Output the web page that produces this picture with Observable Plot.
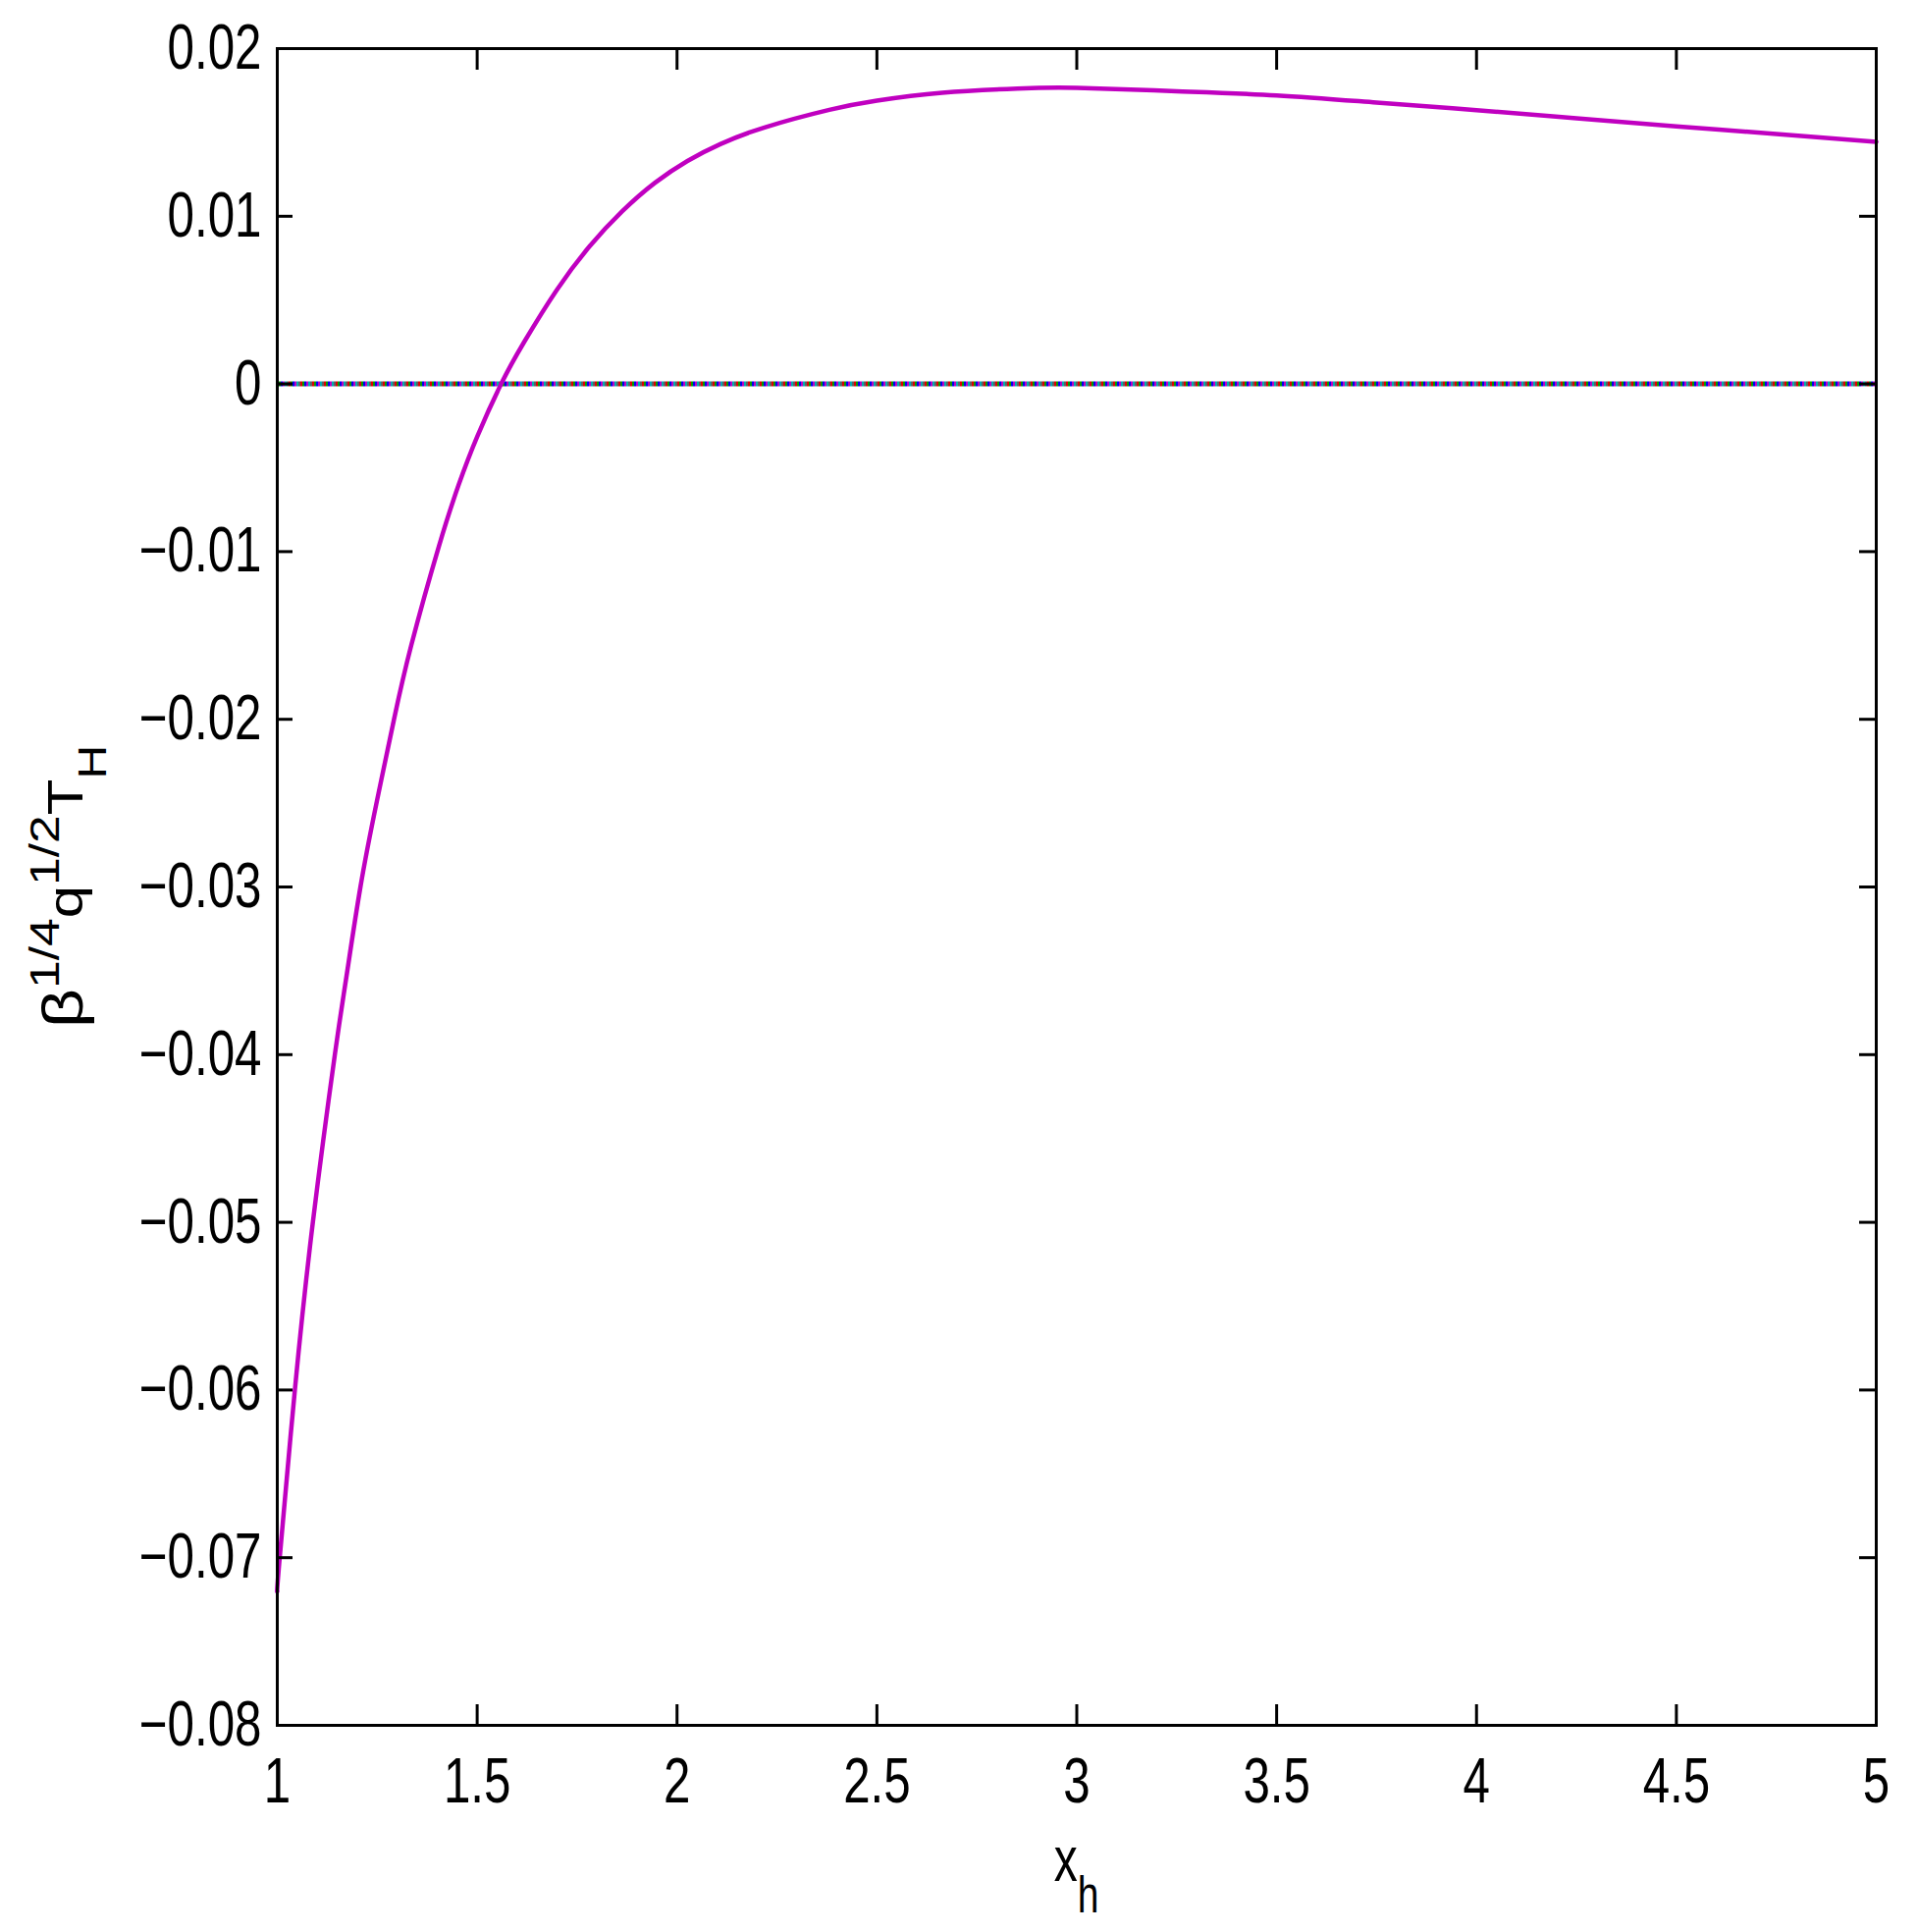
<!DOCTYPE html>
<html><head><meta charset="utf-8">
<script src="https://cdn.jsdelivr.net/npm/d3@7"></script>
<script src="https://cdn.jsdelivr.net/npm/@observablehq/plot@0.6"></script>
<style>html,body{margin:0;padding:0;background:#fff} svg{display:block}</style>
</head><body><div id="chart"></div>
<script>
// horizon position x_h and scaled Hawking temperature
const xh = [1.0, 1.006, 1.044, 1.089, 1.144, 1.172, 1.208, 1.249, 1.292, 1.335, 1.404, 1.454, 1.5, 1.56, 1.617, 1.699, 1.781, 1.863, 1.945, 2.026, 2.108, 2.219, 2.381, 2.5, 2.663, 2.851, 3.0, 3.25, 3.5, 3.75, 4.0, 4.25, 4.5, 4.75, 5.0];
const tH = [-0.0720, -0.0700, -0.0600, -0.0500, -0.0400, -0.0355, -0.0300, -0.0249, -0.0200, -0.0156, -0.0097, -0.0060, -0.00315, 0.0, 0.00248, 0.0056, 0.0082, 0.0103, 0.0120, 0.0133, 0.0143, 0.0153, 0.01635, 0.0169, 0.01737, 0.01762, 0.01766, 0.01746, 0.01721, 0.01678, 0.01633, 0.01584, 0.01536, 0.01491, 0.01444];
const zeroSeries = [0];
const zeroColors = ["#e00000", "#00a000", "#0000f0", "#c000c0", "#00b0b0", "#606060"];
const xTicks = [1, 1.5, 2, 2.5, 3, 3.5, 4, 4.5, 5];
const yTicks = [0.02, 0.01, 0, -0.01, -0.02, -0.03, -0.04, -0.05, -0.06, -0.07, -0.08];
const xLabel = ["x", "h"];
const yLabel = ["β", "1/4", "q", "1/2", "T", "H"];

const W = 1953, H = 1968, mL = 282, mR = 42, mT = 49, mB = 211;
const pw = W - mL - mR, ph = H - mT - mB;
const font = "'Liberation Sans', Arial, Helvetica, sans-serif";
const data = xh.map((x, i) => ({x, y: tH[i]}));
const fmtY = d => d === 0 ? "0" : d3.format(".2f")(d);
const tickStyle = {stroke: "black", strokeWidth: 3};

const plot = Plot.plot({
  width: W, height: H,
  marginLeft: mL, marginRight: mR, marginTop: mT, marginBottom: mB,
  x: {domain: [1, 5]},
  y: {domain: [-0.08, 0.02]},
  style: {fontFamily: font, background: "white", color: "black"},
  marks: [
    ...zeroColors.map((c, i) => Plot.ruleY(zeroSeries, {y: d => d, stroke: c, strokeWidth: 5, strokeDasharray: "2,10", strokeDashoffset: -2 * i})),
    Plot.line(data, {x: "x", y: "y", stroke: "#c000c0", strokeWidth: 4.5, curve: "natural"}),
    Plot.tickY(yTicks, {y: d => d, insetRight: pw - 16, ...tickStyle}),
    Plot.tickY(yTicks, {y: d => d, insetLeft: pw - 17, ...tickStyle}),
    Plot.tickX(xTicks, {x: d => d, insetTop: ph - 21, ...tickStyle}),
    Plot.tickX(xTicks, {x: d => d, insetBottom: ph - 22, ...tickStyle}),
    Plot.frame({stroke: "black", strokeWidth: 3}),
    Plot.axisY(yTicks, {tickSize: 0, tickPadding: 16, fontSize: 64, tickFormat: fmtY, label: null}),
    Plot.axisX(xTicks, {tickSize: 0, tickPadding: 33, fontSize: 64, tickFormat: d => String(d), label: null})
  ]
});
document.getElementById("chart").appendChild(plot);

const svg = d3.select(plot);
const NS = "http://www.w3.org/2000/svg";
// narrow the tick labels around their own anchor points (Helvetica Narrow look)
svg.selectAll('g[aria-label$="tick label"] text').each(function () {
  const bb = this.getBBox();
  const anchor = getComputedStyle(this).textAnchor;
  let ax = anchor === "end" ? bb.x + bb.width : anchor === "middle" ? bb.x + bb.width / 2 : bb.x;
  const ay = bb.y + bb.height / 2;
  const c = this.transform && this.transform.baseVal.consolidate();
  if (c) ax = c.matrix.a * ax + c.matrix.c * ay + c.matrix.e;
  const g = document.createElementNS(NS, "g");
  g.setAttribute("transform", `translate(${ax},0) scale(0.77,1) translate(${-ax},0)`);
  this.parentNode.insertBefore(g, this);
  g.appendChild(this);
});

const xr = plot.scale("x").range, yr = plot.scale("y").range;
const cx = (xr[0] + xr[1]) / 2, cy = (yr[0] + yr[1]) / 2;

const xt = svg.append("text")
  .attr("transform", `translate(${cx},${yr[0] + 159}) scale(0.75,1)`)
  .attr("text-anchor", "middle")
  .attr("font-family", font).attr("fill", "black");
xt.append("tspan").attr("font-size", 64).text(xLabel[0]);
xt.append("tspan").attr("font-size", 52).attr("dy", 32).text(xLabel[1]);

const yt = svg.append("text")
  .attr("transform", `translate(84,${cy}) rotate(-90) scale(1.2,1)`)
  .attr("text-anchor", "middle")
  .attr("font-family", font).attr("fill", "black");
yt.append("tspan").attr("font-size", 58).text(yLabel[0]);
yt.append("tspan").attr("font-size", 43).attr("dy", -24).text(yLabel[1]);
yt.append("tspan").attr("font-size", 50).attr("dy", 24).text(yLabel[2]);
yt.append("tspan").attr("font-size", 43).attr("dy", -24).text(yLabel[3]);
yt.append("tspan").attr("font-size", 50).attr("dy", 24).text(yLabel[4]);
yt.append("tspan").attr("font-size", 40).attr("dy", 24).text(yLabel[5]);
</script>
</body></html>
